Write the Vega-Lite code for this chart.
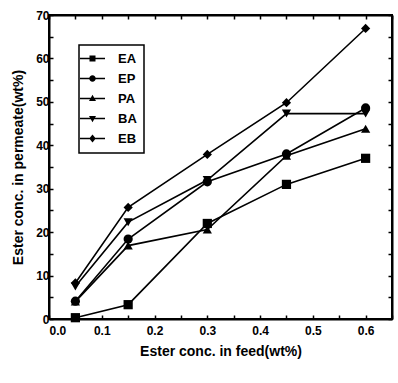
{
  "$schema": "https://vega.github.io/schema/vega-lite/v6.json",
  "width": 343,
  "height": 304,
  "autosize": {"type": "none"},
  "padding": {"left": 49, "top": 15, "right": 6, "bottom": 64},
  "background": "white",
  "config": {
    "view": {"stroke": "black", "strokeWidth": 2},
    "font": "Liberation Sans",
    "axis": {
      "domainColor": "black",
      "domainWidth": 2,
      "tickColor": "black",
      "tickWidth": 1.5,
      "tickSize": -4,
      "grid": false,
      "labelColor": "black",
      "labelFont": "Liberation Sans",
      "labelFontSize": 12,
      "labelFontWeight": "bold",
      "titleColor": "black",
      "titleFont": "Liberation Sans",
      "titleFontSize": 14,
      "titleFontWeight": "bold"
    },
    "legend": {
      "orient": "top-left",
      "offset": 30,
      "padding": 7,
      "strokeColor": "black",
      "strokeWidth": 1.5,
      "fillColor": "white",
      "symbolSize": 100,
      "symbolFillColor": "black",
      "symbolStrokeColor": "black",
      "symbolStrokeWidth": 0,
      "symbolOpacity": 1,
      "labelFont": "Liberation Sans",
      "labelFontSize": 13,
      "labelFontWeight": "bold",
      "labelColor": "black",
      "labelOffset": 19,
      "rowPadding": 6
    }
  },
  "data": {
    "values": [
      {"series": "EA", "feed": 0.05, "permeate": 0.3},
      {"series": "EA", "feed": 0.15, "permeate": 3.3},
      {"series": "EA", "feed": 0.3, "permeate": 22.0},
      {"series": "EA", "feed": 0.45, "permeate": 31.0},
      {"series": "EA", "feed": 0.6, "permeate": 37.0},
      {"series": "EP", "feed": 0.05, "permeate": 4.1},
      {"series": "EP", "feed": 0.15, "permeate": 18.4},
      {"series": "EP", "feed": 0.3, "permeate": 31.6},
      {"series": "EP", "feed": 0.45, "permeate": 38.0},
      {"series": "EP", "feed": 0.6, "permeate": 48.6},
      {"series": "PA", "feed": 0.05, "permeate": 4.0},
      {"series": "PA", "feed": 0.15, "permeate": 16.9},
      {"series": "PA", "feed": 0.3, "permeate": 20.6},
      {"series": "PA", "feed": 0.45, "permeate": 37.6},
      {"series": "PA", "feed": 0.6, "permeate": 43.8},
      {"series": "BA", "feed": 0.05, "permeate": 7.5},
      {"series": "BA", "feed": 0.15, "permeate": 22.3},
      {"series": "BA", "feed": 0.3, "permeate": 32.0},
      {"series": "BA", "feed": 0.45, "permeate": 47.3},
      {"series": "BA", "feed": 0.6, "permeate": 47.3},
      {"series": "EB", "feed": 0.05, "permeate": 8.3},
      {"series": "EB", "feed": 0.15, "permeate": 25.7},
      {"series": "EB", "feed": 0.3, "permeate": 37.9},
      {"series": "EB", "feed": 0.45, "permeate": 49.8},
      {"series": "EB", "feed": 0.6, "permeate": 66.9}
    ]
  },
  "resolve": {
    "scale": {"shape": "independent"},
    "axis": {"x": "independent", "y": "independent"}
  },
  "layer": [
    {
      "mark": {"type": "line", "color": "black", "strokeWidth": 1.6},
      "encoding": {
        "x": {
          "field": "feed", "type": "quantitative",
          "scale": {"domain": [0, 0.65], "nice": false, "zero": false},
          "axis": {
            "orient": "bottom",
            "title": "Ester conc. in feed(wt%)",
            "values": [0, 0.05, 0.1, 0.15, 0.2, 0.25, 0.3, 0.35, 0.4, 0.45, 0.5, 0.55, 0.6, 0.65],
            "labelExpr": "abs(datum.value*10 - round(datum.value*10)) < 0.01 ? format(datum.value, '.1f') : ''",
            "labelPadding": 10,
            "titlePadding": 8
          }
        },
        "y": {
          "field": "permeate", "type": "quantitative",
          "scale": {"domain": [0, 70], "nice": false},
          "axis": {
            "orient": "left",
            "title": "Ester conc. in permeate(wt%)",
            "values": [0, 5, 10, 15, 20, 25, 30, 35, 40, 45, 50, 55, 60, 65, 70],
            "labelExpr": "datum.value % 10 == 0 ? datum.label : ''",
            "labelPadding": 4,
            "titlePadding": 10
          }
        },
        "detail": {"field": "series"}
      }
    },
    {
      "mark": {"type": "point", "filled": true, "color": "black", "opacity": 1, "size": 85},
      "encoding": {
        "x": {"field": "feed", "type": "quantitative", "axis": null},
        "y": {"field": "permeate", "type": "quantitative", "axis": null},
        "shape": {
          "field": "series", "type": "nominal",
          "scale": {"domain": ["EA", "EP", "PA", "BA", "EB"], "range": ["square", "circle", "triangle-up", "triangle-down", "diamond"]},
          "legend": null
        }
      }
    },
    {
      "mark": {"type": "point", "filled": true, "color": "black", "opacity": 0},
      "encoding": {
        "x": {
          "field": "feed", "type": "quantitative",
          "axis": {
            "orient": "top",
            "title": null,
            "labels": false,
            "values": [0, 0.05, 0.1, 0.15, 0.2, 0.25, 0.3, 0.35, 0.4, 0.45, 0.5, 0.55, 0.6, 0.65]
          }
        },
        "y": {
          "field": "permeate", "type": "quantitative",
          "axis": {
            "orient": "right",
            "title": null,
            "labels": false,
            "values": [0, 5, 10, 15, 20, 25, 30, 35, 40, 45, 50, 55, 60, 65, 70]
          }
        },
        "shape": {
          "field": "series", "type": "nominal",
          "scale": {
            "domain": ["EA", "EP", "PA", "BA", "EB"],
            "range": [
              "M-2.5,-0.15H2.5V0.15H-2.5Z M-0.6,-0.6H0.6V0.6H-0.6Z",
              "M-2.5,-0.15H2.5V0.15H-2.5Z M-0.65,0A0.65,0.65 0 1,1 0.65,0A0.65,0.65 0 1,1 -0.65,0Z",
              "M-2.5,-0.15H2.5V0.15H-2.5Z M0,-0.75L0.7,0.5H-0.7Z",
              "M-2.5,-0.15H2.5V0.15H-2.5Z M0,0.75L-0.7,-0.5H0.7Z",
              "M-2.5,-0.15H2.5V0.15H-2.5Z M0,-0.8L0.65,0L0,0.8L-0.65,0Z"
            ]
          },
          "legend": {"title": null}
        }
      }
    }
  ]
}
